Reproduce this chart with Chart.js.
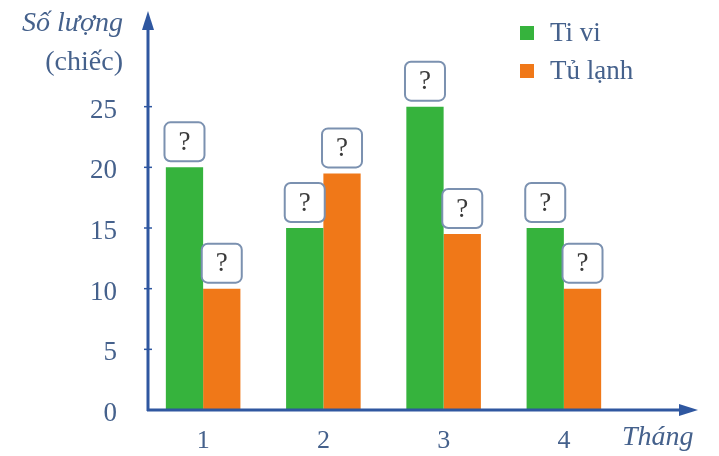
<!DOCTYPE html>
<html>
<head>
<meta charset="utf-8">
<script src="https://cdn.jsdelivr.net/npm/chart.js@4/dist/chart.umd.min.js"></script>
<style>
  html, body { margin: 0; padding: 0; background: #fff; }
  #wrap { width: 719px; height: 456px; position: relative; }
</style>
</head>
<body>
<div id="wrap"><canvas id="chart"></canvas></div>
<script>
// data
const months = ['1', '2', '3', '4'];
const tiviData = [20, 15, 25, 15];
const tulanhData = [10, 19.5, 14.5, 10];
const seriesNames = ['Ti vi', 'Tủ lạnh'];
const yTicks = [0, 5, 10, 15, 20, 25];

const GREEN = '#36b33d';
const ORANGE = '#f07818';
const AXIS = '#2f57a0';
const TEXT = '#45618c';
const SERIF = '"Liberation Serif", "DejaVu Serif", serif';

// axes with arrows, tick marks, titles, legend and the "?" boxes
const decorPlugin = {
    id: 'decor',
    afterDraw(chart) {
        const ctx = chart.ctx;
        const area = chart.chartArea;
        const y = chart.scales.y;
        const x0 = area.left + 5, y0 = y.getPixelForValue(0);

        ctx.save();
        ctx.strokeStyle = AXIS;
        ctx.fillStyle = AXIS;
        ctx.lineWidth = 3;
        // y axis
        ctx.beginPath();
        ctx.moveTo(x0, y0 + 1);
        ctx.lineTo(x0, 28);
        ctx.stroke();
        ctx.beginPath();
        ctx.moveTo(x0, 11);
        ctx.lineTo(x0 - 6, 30);
        ctx.lineTo(x0 + 6, 30);
        ctx.closePath();
        ctx.fill();
        // x axis
        ctx.beginPath();
        ctx.moveTo(x0 - 1, y0);
        ctx.lineTo(682, y0);
        ctx.stroke();
        ctx.beginPath();
        ctx.moveTo(698, y0);
        ctx.lineTo(679, y0 - 6);
        ctx.lineTo(679, y0 + 6);
        ctx.closePath();
        ctx.fill();
        // small tick marks on y axis
        ctx.lineWidth = 1.5;
        yTicks.forEach(function (v) {
            if (v === 0) return;
            const py = y.getPixelForValue(v);
            ctx.beginPath();
            ctx.moveTo(x0 - 4, py);
            ctx.lineTo(x0 + 4, py);
            ctx.stroke();
        });

        // titles
        ctx.fillStyle = TEXT;
        ctx.textBaseline = 'middle';
        ctx.textAlign = 'right';
        ctx.font = 'italic 28px ' + SERIF;
        ctx.fillText('Số lượng', 123, 24);
        ctx.font = '28px ' + SERIF;
        ctx.fillText('(chiếc)', 123, 63);
        ctx.textAlign = 'left';
        ctx.font = 'italic 28px ' + SERIF;
        ctx.fillText('Tháng', 622, 438);

        // legend
        const colors = [GREEN, ORANGE];
        chart.data.datasets.forEach(function (ds, i) {
            const ly = 33 + i * 38;
            ctx.fillStyle = colors[i];
            ctx.fillRect(520, ly - 7, 14, 14);
            ctx.fillStyle = TEXT;
            ctx.font = '27px ' + SERIF;
            ctx.textAlign = 'left';
            ctx.fillText(ds.label, 550, ly + 1);
        });

        // "?" boxes above each bar
        chart.data.datasets.forEach(function (ds, i) {
            chart.getDatasetMeta(i).data.forEach(function (bar) {
                const w = 40, h = 39;
                const bx = bar.x - w / 2, by = bar.y - 6 - h;
                ctx.beginPath();
                ctx.roundRect(bx, by, w, h, 6);
                ctx.fillStyle = '#fff';
                ctx.fill();
                ctx.lineWidth = 2;
                ctx.strokeStyle = '#7b91b0';
                ctx.stroke();
                ctx.fillStyle = '#3a3a3a';
                ctx.font = '27px ' + SERIF;
                ctx.textAlign = 'center';
                ctx.fillText('?', bar.x, by + h / 2 + 1);
            });
        });
        ctx.restore();
    }
};

new Chart(document.getElementById('chart'), {
    type: 'bar',
    data: {
        labels: months,
        datasets: [
            { label: seriesNames[0], data: tiviData, backgroundColor: GREEN },
            { label: seriesNames[1], data: tulanhData, backgroundColor: ORANGE }
        ]
    },
    options: {
        responsive: true,
        maintainAspectRatio: false,
        animation: false,
        layout: { padding: { top: 46, right: 95, left: 0, bottom: 0 } },
        datasets: {
            bar: { categoryPercentage: 0.62, barPercentage: 1, borderWidth: 0, inflateAmount: 0 }
        },
        plugins: {
            legend: { display: false },
            tooltip: { enabled: false }
        },
        scales: {
            x: {
                grid: { display: false },
                border: { display: false },
                ticks: {
                    color: TEXT,
                    padding: 8,
                    font: { family: SERIF, size: 26 }
                },
                afterFit: function (scale) { scale.height = 46; }
            },
            y: {
                min: 0,
                max: 30,
                grid: { display: false },
                border: { display: false },
                afterBuildTicks: function (scale) {
                    scale.ticks = yTicks.map(function (v) { return { value: v }; });
                },
                ticks: {
                    color: TEXT,
                    padding: 18,
                    labelOffset: 4,
                    font: { family: SERIF, size: 27 }
                },
                afterFit: function (scale) { scale.width = 143; }
            }
        }
    },
    plugins: [decorPlugin]
});
</script>
</body>
</html>
